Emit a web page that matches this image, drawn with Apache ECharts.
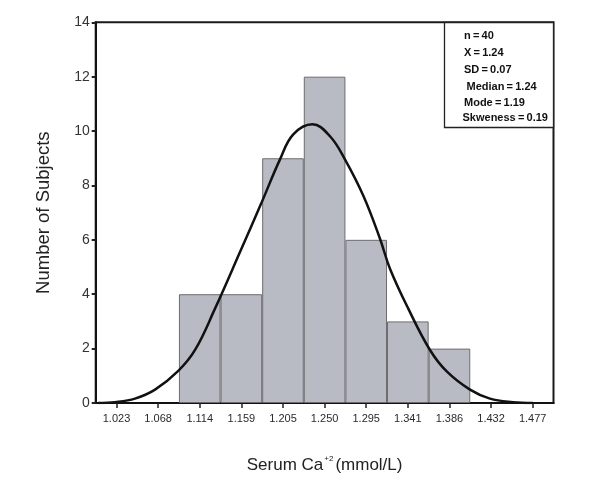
<!DOCTYPE html>
<html>
<head>
<meta charset="utf-8">
<script src="https://cdn.jsdelivr.net/npm/echarts@6/dist/echarts.min.js"></script>
<style>html,body{margin:0;padding:0;background:#fff}#c{width:614px;height:480px}</style>
</head>
<body>
<div id="c"></div>
<script>
// x-axis bin labels (bin centres)
const tickLabels = ['1.023','1.068','1.114','1.159','1.205','1.250','1.295','1.341','1.386','1.432','1.477'];
// counts per bin (empty bins null)
const counts = [null, null, 4, 4, 9, 12, 6, 3, 2, null, null];
// normal curve
const curveX = [1.0025,1.0211,1.0429,1.0648,1.0902,1.1085,1.1303,1.1576,1.1813,1.2013,1.2158,1.2367,1.2559,1.2722,1.2923,1.3105,1.3214,1.3414,1.3651,1.3834,1.4088,1.4306,1.4558,1.4776];
const curveY = [0.00,0.03,0.16,0.49,1.18,1.95,3.47,5.55,7.38,8.96,9.88,10.25,9.81,8.96,7.62,6.04,4.94,3.47,1.95,1.16,0.49,0.16,0.03,0.00];
// statistics box
const statLabels = ['n','X','SD','Median','Mode','Skweness'];
const statValues = ['40','1.24','0.07','1.24',' 1.19','0.19'];
const yTicks = [0, 14, 2]; // min, max, interval
const xRange = [1.0, 1.5];

const FONT = '"Liberation Sans", Arial, Helvetica, sans-serif';
const chart = echarts.init(document.getElementById('c'), null, {renderer: 'canvas'});

const curveData = curveX.map((x, i) => [x, curveY[i]]);
const statX = [464, 464, 464, 466.5, 464, 462.5];
const statY = [35, 52.3, 69.3, 86.7, 102.3, 117.7];

const graphics = [{
  type: 'rect', z: 100,
  shape: {x: 444.5, y: 22.5, width: 109, height: 105},
  style: {fill: '#fff', stroke: '#222', lineWidth: 1.3}
}];
statLabels.forEach((l, i) => {
  graphics.push({
    type: 'text', z: 101, left: statX[i], top: statY[i] - 5,
    style: {text: l + '\u2009=\u2009' + statValues[i].trim(), font: 'bold 11px ' + FONT, fill: '#111'}
  });
});

chart.setOption({
  animation: false,
  backgroundColor: '#fff',
  grid: {left: 95.7, right: 60.5, top: 22.3, bottom: 75, show: true, borderColor: '#1a1a1a', borderWidth: 2, backgroundColor: 'transparent'},
  xAxis: [{
    type: 'category', data: tickLabels, boundaryGap: true,
    axisLine: {show: true, lineStyle: {color: '#111', width: 2}},
    axisTick: {show: true, alignWithLabel: true, length: 5, lineStyle: {color: '#222', width: 1.5}},
    axisLabel: {fontFamily: FONT, fontSize: 11, color: '#2a2a2a', margin: 10, interval: 0},
    splitLine: {show: false},
    name: 'Serum Ca{sup|+2}(mmol/L)', nameLocation: 'middle', nameGap: 52,
    nameTextStyle: {fontFamily: FONT, fontSize: 17, color: '#222', lineHeight: 20,
      rich: {sup: {fontFamily: FONT, fontSize: 8, color: '#222', verticalAlign: 'top', lineHeight: 20, padding: [0, 2, 0, 1]}}}
  }, {
    type: 'value', min: xRange[0], max: xRange[1], show: false
  }],
  yAxis: [{
    type: 'value', min: yTicks[0], max: yTicks[1], interval: yTicks[2],
    axisLine: {show: true, lineStyle: {color: '#111', width: 2}},
    axisTick: {show: true, length: 4, lineStyle: {color: '#222', width: 2}},
    axisLabel: {fontFamily: FONT, fontSize: 14, color: '#333', margin: 6, padding: [0, 0, 4, 0]},
    splitLine: {show: false},
    name: 'Number of Subjects', nameLocation: 'middle', nameGap: 42,
    nameTextStyle: {fontFamily: FONT, fontSize: 18.5, color: '#222'}
  }],
  series: [{
    type: 'bar', xAxisIndex: 0, yAxisIndex: 0, data: counts,
    barCategoryGap: '0%',
    itemStyle: {color: '#b8bbc4', borderColor: '#6c6c70', borderWidth: 1},
    z: 2
  }, {
    type: 'line', xAxisIndex: 1, yAxisIndex: 0, data: curveData,
    smooth: 0.4, showSymbol: false, symbol: 'none',
    lineStyle: {color: '#111', width: 2.5},
    z: 5
  }],
  graphic: graphics
});
</script>
</body>
</html>
